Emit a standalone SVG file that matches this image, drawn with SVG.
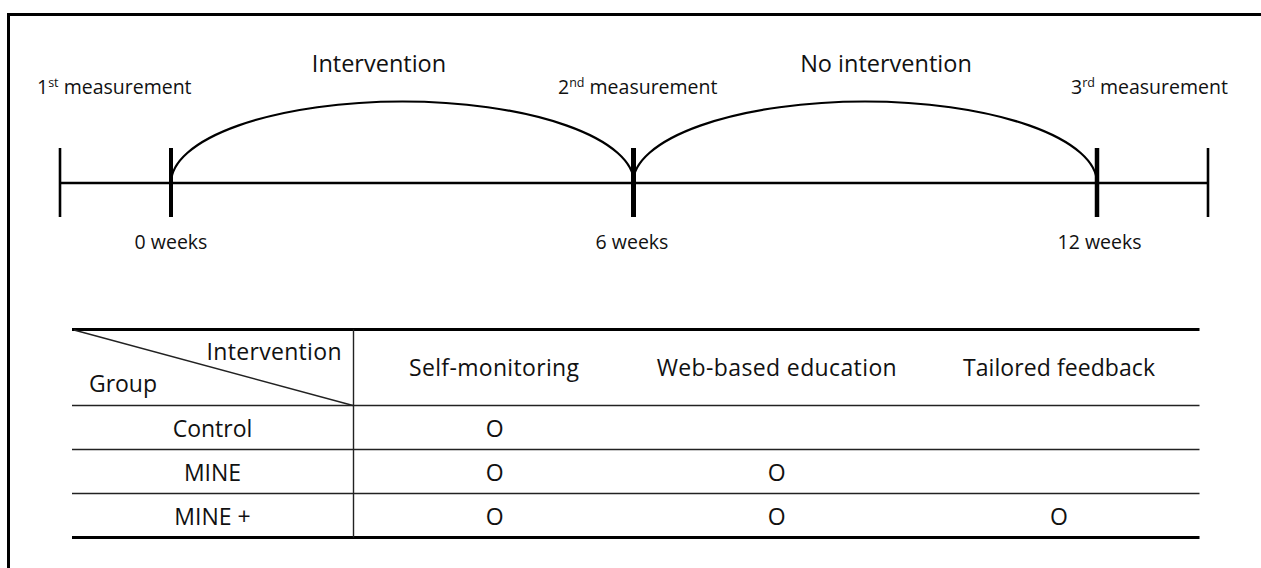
<svg xmlns="http://www.w3.org/2000/svg" width="1261" height="568" viewBox="0 0 1261 568">
<style>
text{font-family:"Open Sans","Noto Sans","Liberation Sans",sans-serif;fill:#111}
.lab{font-size:19.5px}
.big{font-size:23.5px}
.cell{font-size:23px}
.sup{font-size:12.5px}
.ax{stroke:#000;fill:none}
.arc{stroke:#000;stroke-width:2.2;fill:none}
.thin{stroke:#222;stroke-width:1.4;fill:none}
.thick{stroke:#000;stroke-width:3;fill:none}
</style>
<rect width="1261" height="568" fill="#fff"/>
<path id="frame" d="M8.5,570 V14.5 H1262" fill="none" stroke="#000" stroke-width="3"/>

<g id="timeline">
  <line class="ax" x1="60" y1="183" x2="1208" y2="183" stroke-width="2.6"/>
  <line class="ax" x1="60" y1="148" x2="60" y2="217" stroke-width="2.6"/>
  <line class="ax" x1="171" y1="148" x2="171" y2="217" stroke-width="4"/>
  <line class="ax" x1="633.5" y1="148" x2="633.5" y2="217" stroke-width="5"/>
  <line class="ax" x1="1097" y1="148" x2="1097" y2="217" stroke-width="4.5"/>
  <line class="ax" x1="1208" y1="148" x2="1208" y2="217" stroke-width="2.6"/>
</g>
<g id="connectors">
  <path class="arc" d="M171,183 A231.5,81.5 0 0 1 634,183"/>
  <path class="arc" d="M633,183 A232,81.5 0 0 1 1097,183"/>
</g>

<g id="labels">
  <text id="m1" class="lab" x="37" y="94">1<tspan class="sup" dy="-7.5">st</tspan><tspan dy="7.5"> measurement</tspan></text>
  <text id="m2" class="lab" x="558" y="94">2<tspan class="sup" dy="-7.5">nd</tspan><tspan dy="7.5"> measurement</tspan></text>
  <text id="m3" class="lab" x="1071" y="94">3<tspan class="sup" dy="-7.5">rd</tspan><tspan dy="7.5"> measurement</tspan></text>
  <text id="int" class="big" x="379" y="72" text-anchor="middle">Intervention</text>
  <text id="noint" class="big" x="886" y="72" text-anchor="middle">No intervention</text>
  <text id="w0" class="lab" x="171" y="249" text-anchor="middle">0 weeks</text>
  <text id="w6" class="lab" x="632" y="249" text-anchor="middle">6 weeks</text>
  <text id="w12" class="lab" x="1099.5" y="249" text-anchor="middle">12 weeks</text>
</g>

<g id="table">
  <line class="thick" x1="72" y1="329.5" x2="1199.5" y2="329.5"/>
  <line class="thick" x1="72" y1="537.5" x2="1199.5" y2="537.5"/>
  <line class="thin" x1="72" y1="405.5" x2="1199.5" y2="405.5"/>
  <line class="thin" x1="72" y1="449.5" x2="1199.5" y2="449.5"/>
  <line class="thin" x1="72" y1="493.5" x2="1199.5" y2="493.5"/>
  <line class="thin" x1="353.5" y1="329.5" x2="353.5" y2="537.5"/>
  <line class="thin" x1="74" y1="330" x2="353" y2="405.5"/>
  <text class="cell" x="341.5" y="360" text-anchor="end" textLength="135">Intervention</text>
  <text class="cell" x="89" y="392" textLength="68">Group</text>
  <text class="cell" x="494" y="376" text-anchor="middle" textLength="170">Self-monitoring</text>
  <text class="cell" x="776.7" y="376" text-anchor="middle" textLength="240">Web-based education</text>
  <text class="cell" x="1059" y="376" text-anchor="middle" textLength="192">Tailored feedback</text>
  <text class="cell" x="212.5" y="437" text-anchor="middle">Control</text>
  <text class="cell" x="212.5" y="481" text-anchor="middle">MINE</text>
  <text class="cell" x="212.5" y="525" text-anchor="middle">MINE +</text>
  <text class="cell" x="494.7" y="437" text-anchor="middle">O</text>
  <text class="cell" x="494.7" y="481" text-anchor="middle">O</text>
  <text class="cell" x="494.7" y="525" text-anchor="middle">O</text>
  <text class="cell" x="776.7" y="481" text-anchor="middle">O</text>
  <text class="cell" x="776.7" y="525" text-anchor="middle">O</text>
  <text class="cell" x="1059" y="525" text-anchor="middle">O</text>
</g>
</svg>
